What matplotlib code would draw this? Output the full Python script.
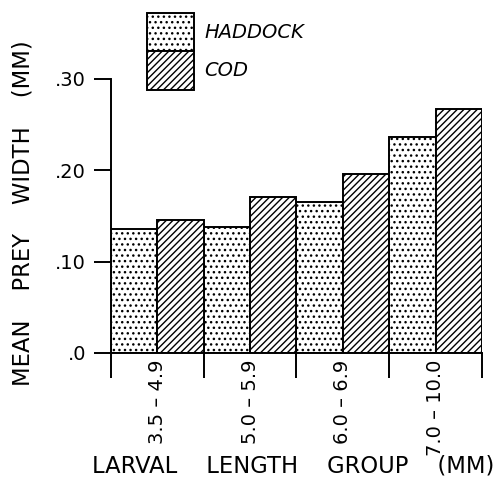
import matplotlib
matplotlib.use("Agg")
import matplotlib.pyplot as plt
import numpy as np

# values (mm)
groups = ["3.5 – 4.9", "5.0 – 5.9", "6.0 – 6.9", "7.0 – 10.0"]
haddock = [0.136, 0.138, 0.165, 0.236]
cod = [0.146, 0.171, 0.196, 0.267]
yticks = [0.0, 0.10, 0.20, 0.30]
ytick_labels = [".0", ".10", ".20", ".30"]

plt.rcParams["font.family"] = "DejaVu Sans"
plt.rcParams["hatch.linewidth"] = 1.0

fig = plt.figure(figsize=(5.02, 4.78), dpi=100)
ax = fig.add_axes([111 / 502, 125 / 478, 371 / 502, 274 / 478])

x = np.arange(len(groups))
hb = ax.bar(x + 0.25, haddock, width=0.5, facecolor="white", edgecolor="black",
            hatch="...", linewidth=1.4)
cb = ax.bar(x + 0.75, cod, width=0.5, facecolor="white", edgecolor="black",
            hatch="/////", linewidth=1.4)

ax.set_xlim(0, 4)
ax.set_ylim(0, 0.30)
for s in ["top", "right"]:
    ax.spines[s].set_visible(False)
for s in ["left", "bottom"]:
    ax.spines[s].set_linewidth(1.4)

ax.set_xticks(np.arange(len(groups) + 1))
ax.set_xticklabels([])
ax.set_xticks(x + 0.5, minor=True)
ax.set_xticklabels(groups, minor=True, rotation=90, fontsize=14)
ax.tick_params(axis="x", which="major", length=18, width=1.4, direction="out")
ax.tick_params(axis="x", which="minor", length=0, pad=5)

ax.set_yticks(yticks)
ax.set_yticklabels(ytick_labels, fontsize=14)
ax.tick_params(axis="y", length=12, width=1.4, pad=6)

ax.set_xlabel("LARVAL    LENGTH    GROUP    (MM)", fontsize=16.3, va="center")
ax.xaxis.set_label_coords(0.49, -0.412)
ax.set_ylabel("MEAN    PREY    WIDTH    (MM)", fontsize=16.3, va="center")
ax.yaxis.set_label_coords(-0.237, 0.511)

ax.legend([hb, cb], ["HADDOCK", "COD"], loc="upper left",
          bbox_to_anchor=(147 / 502, 1 - 13 / 478), bbox_transform=fig.transFigure,
          frameon=False, borderpad=0, borderaxespad=0, labelspacing=0,
          handlelength=2.4, handleheight=2.65, handletextpad=0.55,
          prop={"style": "italic", "size": 14})

fig.savefig("out.png", dpi=100)
